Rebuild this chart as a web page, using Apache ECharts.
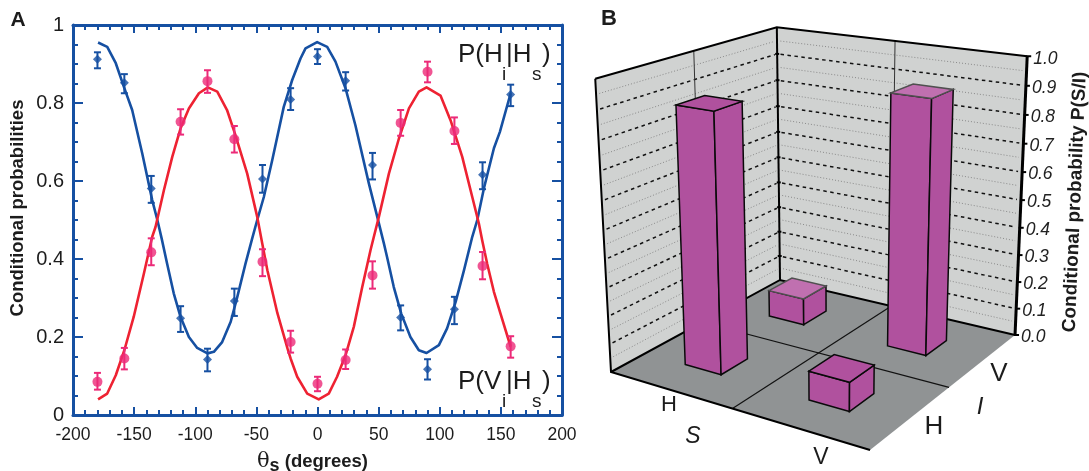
<!DOCTYPE html>
<html><head><meta charset="utf-8">
<style>html,body{margin:0;padding:0;background:#fff}#c{width:1089px;height:471px}</style>
<script src="https://cdn.jsdelivr.net/npm/echarts@6/dist/echarts.min.js"></script>
</head><body><div id="c"></div>
<script>
// ---------- Panel A data ----------
const pointAngles = [-180,-158,-136,-112,-90,-68,-45,-22,0,23,45,68,90,112,135,158];
const blueValues = [.912,.852,.581,.248,.142,.292,.605,.809,.919,.857,.641,.250,.117,.271,.616,.822];
const blueLow    = [.889,.825,.544,.213,.112,.254,.570,.782,.900,.832,.604,.217,.091,.233,.579,.792];
const blueHigh   = [.930,.874,.613,.279,.170,.324,.641,.838,.938,.879,.672,.281,.143,.303,.648,.847];
const pinkValues = [.085,.145,.417,.752,.856,.707,.393,.187,.080,.141,.358,.749,.880,.728,.382,.176];
const pinkLow    = [.065,.117,.384,.719,.826,.673,.356,.160,.061,.118,.324,.716,.853,.695,.348,.147];
const pinkHigh   = [.108,.172,.453,.784,.884,.741,.425,.216,.098,.168,.394,.782,.906,.763,.418,.202];
const blueCurveX = [-179.5,-172,-165,-158,-151.6,-143.4,-135.2,-131,-127.5,-123,-117.6,-112,-105.2,-98.4,-90,-84.8,-78,-71,-65.6,-58.9,-53.4,-49.3,-43.9,-37,-27.6,-20.7,-13.9,-9.8,-0.3,7.9,14.7,22.9,31,42,48.9,54.3,56.9,62.4,68.5,76,82.9,89.2,99.3,106,113,119.8,126.6,130.7,136.1,144.3,149.2,158];
const blueCurveY = [.955,.944,.902,.838,.782,.671,.551,.50,.453,.388,.312,.251,.200,.172,.158,.162,.187,.239,.303,.388,.453,.50,.559,.654,.790,.859,.914,.94,.956,.944,.906,.838,.743,.594,.508,.44,.405,.328,.26,.20,.166,.159,.179,.222,.29,.371,.457,.50,.581,.684,.726,.825];
const redCurveX = [-179.5,-172,-165,-158,-150.3,-142,-135.2,-132.5,-125.6,-118.8,-112,-105.2,-97,-89.7,-82,-74,-67.6,-57.5,-49.3,-45.2,-41,-32.8,-24.5,-22,-16.6,-8.4,1,9.2,16,22.9,29.7,36.6,43.4,46.1,50.2,58.4,66.6,74.8,82.9,89.2,100.6,108.8,118.4,126.6,132,134.7,138.8,144.3,149.7,158];
const redCurveY = [.040,.055,.102,.166,.252,.363,.457,.482,.577,.662,.735,.786,.825,.840,.829,.782,.722,.619,.508,.44,.371,.261,.170,.145,.098,.055,.040,.055,.098,.153,.226,.328,.423,.457,.508,.619,.709,.786,.829,.840,.819,.756,.662,.559,.491,.448,.388,.316,.26,.175];
// ---------- Panel B data ----------
const stateLabels = ['H','V'];
const barS = [0,1,0,1];           // 0 = H, 1 = V
const barI = [1,1,0,0];
const barValues = [.10,.90,.90,.10];
const zTicks = [0,.1,.2,.3,.4,.5,.6,.7,.8,.9,1];
const zMinor = [.05,.15,.25,.35,.45,.55,.65,.75,.85,.95];
// ---------- Panel B projection (scene camera, not data) ----------
const cam = {a:157.5,b:304.8,c:611,d:25.5,e:-43.3,f:372,g:-.1167,h:.1741,k:-.06628,vx:833,vy:4503};
function project(s,i,z){
  const q = cam.k*z;
  const w = cam.g*s+cam.h*i+1+q;
  return [(cam.a*s+cam.b*i+cam.c+q*cam.vx)/w,(cam.d*s+cam.e*i+cam.f+q*cam.vy)/w];
}
const sStart=[.172,.669], iStart=[.18,.678], barWidth=.15;

const BLUE='#1650a2', FONT='"Liberation Sans",Arial,sans-serif';
const pts=(xs,ys)=>xs.map((x,j)=>[x,ys[j]]);
const errData=(lo,hi,v)=>pointAngles.map((x,j)=>[x,lo[j],hi[j],v[j]]);
const errRender=color=>(p,api)=>{
  const x=api.value(0), a=api.coord([x,api.value(1)]), b=api.coord([x,api.value(2)]), w=3.5;
  const st={stroke:color,lineWidth:2,fill:null};
  return {type:'group',children:[
    {type:'line',shape:{x1:a[0],y1:a[1],x2:b[0],y2:b[1]},style:st},
    {type:'line',shape:{x1:a[0]-w,y1:a[1],x2:a[0]+w,y2:a[1]},style:st},
    {type:'line',shape:{x1:b[0]-w,y1:b[1],x2:b[0]+w,y2:b[1]},style:st}]};
};
function scenePt(api,s,i,z,dx,dy){const p=project(s,i,z);return api.coord([p[0]+(dx||0),p[1]+(dy||0)]);}
function poly(points,fill,stroke,lw,z2){return {type:'polygon',z2:z2||0,shape:{points},style:{fill:fill||'none',stroke:stroke||null,lineWidth:lw||0}};}
function pline(points,stroke,lw,dash,z2){return {type:'polyline',z2:z2||1,shape:{points},style:{fill:'none',stroke,lineWidth:lw,lineDash:dash||null}};}

function renderRoom(p,api){
  const P=(s,i,z)=>scenePt(api,s,i,z);
  const kids=[
    poly([P(0,0,0),P(1,0,0),P(1,1,0),P(0,1,0)],'#909394'),
    poly([P(0,0,0),P(0,1,0),P(0,1,1),P(0,0,1)],'#d0d2d1'),
    poly([P(0,1,0),P(1,1,0),P(1,1,1),P(0,1,1)],'#d0d2d1')
  ];
  zMinor.forEach(z=>{
    kids.push(pline([P(0,.015,z),P(0,.985,z)],'#8a8a8a',1,[1,2]));
    kids.push(pline([P(.015,1,z),P(.985,1,z)],'#8a8a8a',1,[1,2]));
  });
  zTicks.slice(1,-1).forEach(z=>{
    kids.push(pline([P(0,.015,z),P(0,.985,z)],'#111',1.5,[3.5,3.5]));
    kids.push(pline([P(.015,1,z),P(.985,1,z)],'#111',1.5,[3.5,3.5]));
  });
  kids.push(pline([P(0,.5,0),P(0,.5,1)],'#333',1));
  kids.push(pline([P(.5,1,0),P(.5,1,1)],'#333',1));
  kids.push(pline([P(.5,0,0),P(.5,1,0)],'#111',1.2));
  kids.push(pline([P(0,.5,0),P(1,.5,0)],'#111',1.2));
  kids.push(pline([P(0,0,1),P(0,0,0),P(1,0,0)],'#000',2));
  kids.push(pline([P(0,0,0),P(0,1,0),P(1,1,0)],'#000',2));
  kids.push(pline([P(0,0,1),P(0,1,1),P(1,1,1)],'#000',2));
  kids.push(pline([P(0,1,0),P(0,1,1)],'#000',2));
  kids.push(pline([P(1,1,0),P(1,1,1)],'#000',3));
  return {type:'group',children:kids};
}
function renderBar(p,api){
  const j=api.value(0), s0=sStart[api.value(1)], i0=iStart[api.value(2)], v=api.value(3);
  const s1=s0+barWidth, i1=i0+barWidth;
  const P=(s,i,z)=>scenePt(api,s,i,z);
  const side='#b0519e';
  const light=(j<=1);
  return {type:'group',children:[
    poly([P(s0,i0,0),P(s1,i0,0),P(s1,i0,v),P(s0,i0,v)],side,'#0a0a0a',1.5),
    poly([P(s1,i0,0),P(s1,i1,0),P(s1,i1,v),P(s1,i0,v)],side,'#0a0a0a',1.5),
    poly([P(s0,i0,v),P(s1,i0,v),P(s1,i1,v),P(s0,i1,v)],light?'#c070b0':side,light?'#505050':'#0a0a0a',1.5)
  ]};
}
function renderZTick(p,api){
  const z=api.value(0), a=scenePt(api,1,1,z), t=scenePt(api,1,1,z,6,2.5), b=scenePt(api,0,1,z);
  const kids=[
    {type:'line',shape:{x1:a[0]-1,y1:a[1],x2:a[0]+4,y2:a[1]},style:{stroke:'#000',lineWidth:2}},
    {type:'text',style:{text:z.toFixed(1),x:t[0],y:t[1],align:'left',verticalAlign:'middle',fill:'#222',font:'italic 17.5px '+FONT}}
  ];
  if(z>0&&z<1) kids.push({type:'line',shape:{x1:b[0]-2,y1:b[1],x2:b[0]+2,y2:b[1]},style:{stroke:'#000',lineWidth:2}});
  return {type:'group',children:kids};
}
const txt=(text,x,y,font)=>({type:'text',z:50,style:{text,x,y,font:font+' '+FONT,fill:'#1c1c1c',align:'left',verticalAlign:'bottom'}});
const centerTxt=(text,x,y,font)=>({type:'text',z:50,style:{text,x,y,font:font+' '+FONT,fill:'#1c1c1c',align:'center',verticalAlign:'middle'}});
const graphic=[
  centerTxt('A',18,20,'bold 21px'),
  centerTxt('B',609,19,'bold 22px'),
  txt('P(H',458,68,'26px'),txt('i',502,84,'19px'),txt('|H',506,68,'26px'),txt('s',532,84,'19px'),txt(')',542,68,'26px'),
  txt('P(V',458,395,'26px'),txt('i',502,411,'19px'),txt('|H',506,395,'26px'),txt('s',532,411,'19px'),txt(')',542,395,'26px'),
  centerTxt(stateLabels[0],669,405,'22px'),
  centerTxt('S',693,437,'italic 23px'),
  centerTxt(stateLabels[1],821,458,'23px'),
  centerTxt(stateLabels[1],999,374,'26px'),
  centerTxt('I',980,407,'italic 24px'),
  centerTxt(stateLabels[0],934,427,'26px'),
  {type:'text',z:50,rotation:Math.PI/2-.042,x:1075,y:202,style:{text:'Conditional probability P(S/I)',x:0,y:0,font:'bold 19px '+FONT,fill:'#1c1c1c',align:'center',verticalAlign:'middle'}}
];
const axisX=(pos,show)=>({type:'value',gridIndex:0,position:pos,min:-200,max:200,interval:50,
  axisLine:{show:true,onZero:false,lineStyle:{color:BLUE,width:3}},
  axisTick:{show:true,inside:true,length:8,lineStyle:{color:BLUE,width:2}},
  minorTick:{show:true,splitNumber:5,length:5,lineStyle:{color:BLUE,width:2}},
  splitLine:{show:false},
  axisLabel:{show,color:'#1c1c1c',fontFamily:'Liberation Sans',fontSize:17.5,margin:11}});
const axisY=(pos,show)=>({type:'value',gridIndex:0,position:pos,min:0,max:1,interval:.2,
  axisLine:{show:true,onZero:false,lineStyle:{color:BLUE,width:3}},
  axisTick:{show:true,inside:true,length:10,lineStyle:{color:BLUE,width:2}},
  minorTick:{show:true,splitNumber:4,length:5,lineStyle:{color:BLUE,width:2}},
  splitLine:{show:false},
  axisLabel:{show,color:'#1c1c1c',fontFamily:'Liberation Sans',fontSize:20,margin:9}});
const xBottom=Object.assign(axisX('bottom',true),{
  name:'{t|θ}{s|s}{b| (degrees)}',nameLocation:'middle',nameGap:34,
  nameTextStyle:{padding:[0,10,0,0],rich:{t:{fontFamily:'DejaVu Serif',fontSize:21,color:'#1c1c1c'},s:{fontFamily:'Liberation Sans',fontWeight:'bold',fontSize:18,color:'#1c1c1c',padding:[8,0,0,0]},b:{fontFamily:'Liberation Sans',fontWeight:'bold',fontSize:18.5,color:'#1c1c1c'}}}});
const yLeft=Object.assign(axisY('left',true),{
  name:'Conditional probabilities',nameLocation:'middle',nameGap:46,
  nameTextStyle:{fontFamily:'Liberation Sans',fontWeight:'bold',fontSize:18.5,color:'#1c1c1c',padding:[0,0,0,24]}});
const hiddenX={type:'value',gridIndex:1,min:0,max:1089,show:false};
const hiddenY={type:'value',gridIndex:1,min:0,max:471,inverse:true,show:false};

const option={
  animation:false,backgroundColor:'#fff',
  grid:[{left:73,top:25,width:489,height:390,outerBoundsMode:'none'},{left:0,top:0,width:1089,height:471,outerBoundsMode:'none'}],
  xAxis:[xBottom,axisX('top',false),hiddenX],
  yAxis:[yLeft,axisY('right',false),hiddenY],
  graphic,
  series:[
    {type:'line',xAxisIndex:0,yAxisIndex:0,data:pts(blueCurveX,blueCurveY),showSymbol:false,smooth:false,lineStyle:{color:BLUE,width:2.6,join:'round'},z:3},
    {type:'line',xAxisIndex:0,yAxisIndex:0,data:pts(redCurveX,redCurveY),showSymbol:false,smooth:false,lineStyle:{color:'#ee2232',width:2.6,join:'round'},z:3},
    {type:'custom',xAxisIndex:0,yAxisIndex:0,data:errData(blueLow,blueHigh,blueValues),renderItem:errRender(BLUE),z:4,encode:{x:0,y:3}},
    {type:'custom',xAxisIndex:0,yAxisIndex:0,data:errData(pinkLow,pinkHigh,pinkValues),renderItem:errRender('#ec2a78'),z:4,encode:{x:0,y:3}},
    {type:'scatter',xAxisIndex:0,yAxisIndex:0,data:pts(pointAngles,blueValues),symbol:'diamond',symbolSize:9,itemStyle:{color:BLUE},z:5},
    {type:'scatter',xAxisIndex:0,yAxisIndex:0,data:pts(pointAngles,pinkValues),symbol:'circle',symbolSize:10,itemStyle:{color:'#ec2a78'},z:5},
    {type:'custom',xAxisIndex:2,yAxisIndex:2,data:[[0,0]],renderItem:renderRoom,clip:false,z:2,silent:true},
    {type:'custom',xAxisIndex:2,yAxisIndex:2,data:barValues.map((v,j)=>[j,barS[j],barI[j],v]),renderItem:renderBar,clip:false,z:3,silent:true,encode:{x:0,y:3}},
    {type:'custom',xAxisIndex:2,yAxisIndex:2,data:zTicks.map(z=>[z]),renderItem:renderZTick,clip:false,z:4,silent:true,encode:{x:0}}
  ]
};
echarts.init(document.getElementById('c'),null,{renderer:'canvas'}).setOption(option);
</script></body></html>
